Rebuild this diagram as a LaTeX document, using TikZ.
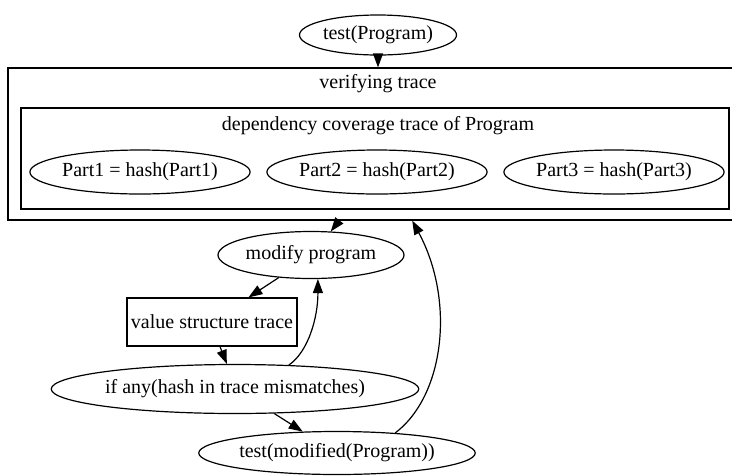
\documentclass[tikz,border=0pt]{standalone}
\usepackage{fontspec}
\setmainfont{Liberation Serif}
\usetikzlibrary{shapes.geometric,arrows.meta}
\begin{document}
\begin{tikzpicture}[x=1pt,y=-1pt,
  every node/.style={font=\fontsize{20}{24}\selectfont, inner sep=0pt},
  ell/.style={draw, ellipse, line width=1.2pt},
  box/.style={draw, rectangle, line width=1.2pt},
  lbl/.style={},
  edge/.style={line width=1.2pt, -{Triangle[length=14pt,width=10pt]}}]
\useasboundingbox (0,0) rectangle (732,475);
\clip (0,0) rectangle (732,475);
% clusters
\node[box, minimum width=737pt, minimum height=152pt] (outer) at (376.5,144) {};
\node[lbl] (outerlbl) at (378,84) {verifying trace};
\node[box, minimum width=708pt, minimum height=101pt] (inner) at (375,158.5) {};
\node[lbl] (innerlbl) at (378,126) {dependency coverage trace of Program};
% nodes
\node[ell, minimum width=157pt, minimum height=40pt] (tp) at (378,35) {test(Program)};
\node[ell, minimum width=216pt, minimum height=44pt] (p1) at (140,172) {Part1 = hash(Part1)};
\node[ell, minimum width=215pt, minimum height=44pt] (p2) at (377,172) {Part2 = hash(Part2)};
\node[ell, minimum width=215pt, minimum height=44pt] (p3) at (614,172) {Part3 = hash(Part3)};
\node[ell, minimum width=186pt, minimum height=47pt] (mp) at (311,255) {modify program};
\node[box, minimum width=170pt, minimum height=48pt] (vst) at (212,322) {value structure trace};
\node[ell, minimum width=344pt, minimum height=49pt] (ifany) at (235,389) {if any(hash in trace mismatches)};
\node[ell, minimum width=261pt, minimum height=43pt] (tm) at (337,453) {test(modified(Program))};
% edges
\draw[edge] (tp.south) -- (tp.south |- outer.north);
\draw[edge] (outer.244) -- (mp.50);
\draw[edge] (mp.215) -- (vst.34);
\draw[edge] (vst.288) -- (ifany.108);
\draw[edge] (ifany.24) .. controls (308,352) and (318,318) .. (mp.286);
\draw[edge] (ifany.328) -- (tm.148);
\draw[edge] (tm.19) .. controls (445,395) and (455,300) .. (outer.295);
\end{tikzpicture}
\end{document}
